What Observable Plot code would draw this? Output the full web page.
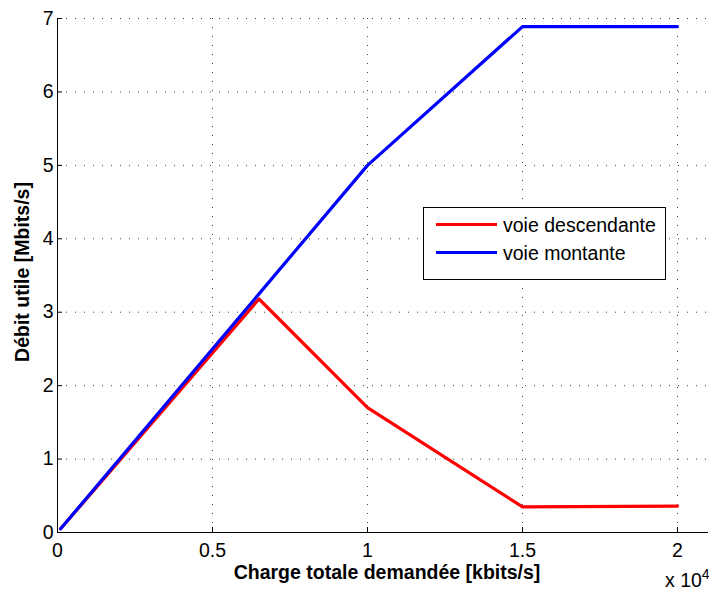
<!DOCTYPE html>
<html>
<head>
<meta charset="utf-8">
<script src="https://cdn.jsdelivr.net/npm/d3@7"></script>
<script src="https://cdn.jsdelivr.net/npm/@observablehq/plot@0.6"></script>
<style>
  body { margin: 0; background: #fff; }
  #wrap { position: relative; width: 709px; height: 591px; overflow: hidden; font-family: "Liberation Sans", Arial, Helvetica, sans-serif; }
  #wrap svg { position: absolute; left: 0; top: 0; }
  .lab { position: absolute; font-weight: bold; font-size: 19.5px; line-height: 22px; color: #000; white-space: nowrap; }
  #legend { position: absolute; left: 423px; top: 207px; width: 241px; height: 71px; border: 1px solid #000; background: #fff; font-size: 19.5px; }
  .li { position: absolute; left: 12px; height: 22px; }
  .li span.sw { position: absolute; left: 0; top: 9px; width: 61px; height: 3px; }
  .li span.tx { position: absolute; left: 67px; top: 0; line-height: 22px; white-space: nowrap; }
  #exp { position: absolute; left: 665px; top: 569px; font-size: 19.5px; line-height: 22px; white-space: nowrap; }
</style>
</head>
<body>
<div id="wrap"></div>
<script>
// Data (x in units of 10^4 kbits/s, y in Mbits/s)
const xDown = [0.01, 0.65, 1.0, 1.5, 2.0];
const yDown = [0.05, 3.18, 1.70, 0.35, 0.36];
const xUp   = [0.01, 0.65, 1.0, 1.5, 2.0];
const yUp   = [0.05, 3.25, 5.00, 6.89, 6.89];
const seriesNames = ["voie descendante", "voie montante"];
const seriesColors = ["#ff0000", "#0000ff"];
const xTicks = [0, 0.5, 1, 1.5, 2];
const yTicks = [0, 1, 2, 3, 4, 5, 6, 7];
const xLabel = "Charge totale demandée [kbits/s]";
const yLabel = "Débit utile [Mbits/s]";

const down = xDown.map((x, i) => ({x, y: yDown[i]}));
const up = xUp.map((x, i) => ({x, y: yUp[i]}));

const font = '"Liberation Sans", Arial, Helvetica, sans-serif';
const chart = Plot.plot({
  width: 709,
  height: 591,
  marginLeft: 57,
  marginRight: 1,
  marginTop: 18,
  marginBottom: 59,
  style: {fontFamily: font, fontSize: "19.5px", color: "#000", background: "#fff"},
  x: {domain: [0, 2.1], ticks: xTicks, label: null},
  y: {domain: [0, 7], ticks: yTicks, label: null},
  marks: [
    Plot.ruleX(xTicks, {stroke: "#444", strokeDasharray: "1,8", strokeWidth: 1}),
    Plot.ruleY(yTicks.filter(d => d > 0), {stroke: "#444", strokeDasharray: "1,8", strokeWidth: 1}),
    Plot.axisX(xTicks, {tickSize: 0, tickPadding: 11, fontSize: 19.5, tickFormat: d => String(d)}),
    Plot.axisX(xTicks, {tickSize: -5, text: null, stroke: "#000"}),
    Plot.axisY(yTicks, {tickSize: 0, tickPadding: 4, fontSize: 19.5, tickFormat: d => String(d)}),
    Plot.axisY(yTicks, {tickSize: -5, text: null, stroke: "#000"}),
    Plot.ruleX([0], {stroke: "#000", strokeWidth: 1}),
    Plot.ruleY([0], {stroke: "#000", strokeWidth: 1}),
    Plot.line(down, {x: "x", y: "y", stroke: seriesColors[0], strokeWidth: 3.2}),
    Plot.line(up, {x: "x", y: "y", stroke: seriesColors[1], strokeWidth: 3.2})
  ]
});

const wrap = document.getElementById("wrap");
wrap.appendChild(chart);

const xl = document.createElement("div");
xl.className = "lab";
xl.textContent = xLabel;
xl.style.left = "387px"; xl.style.top = "561px"; xl.style.transform = "translateX(-50%)";
wrap.appendChild(xl);

const yl = document.createElement("div");
yl.className = "lab";
yl.textContent = yLabel;
yl.style.left = "22px"; yl.style.top = "272px";
yl.style.transform = "translate(-50%, -50%) rotate(-90deg)";
wrap.appendChild(yl);

const lg = document.createElement("div");
lg.id = "legend";
seriesNames.forEach((n, i) => {
  const row = document.createElement("div");
  row.className = "li";
  row.style.top = (6 + i * 28) + "px";
  row.innerHTML = `<span class="sw" style="background:${seriesColors[i]}"></span><span class="tx">${n}</span>`;
  lg.appendChild(row);
});
wrap.appendChild(lg);

const ex = document.createElement("div");
ex.id = "exp";
ex.innerHTML = 'x 10<sup style="font-size:14px;line-height:0;vertical-align:8px">4</sup>';
wrap.appendChild(ex);
</script>
</body>
</html>
